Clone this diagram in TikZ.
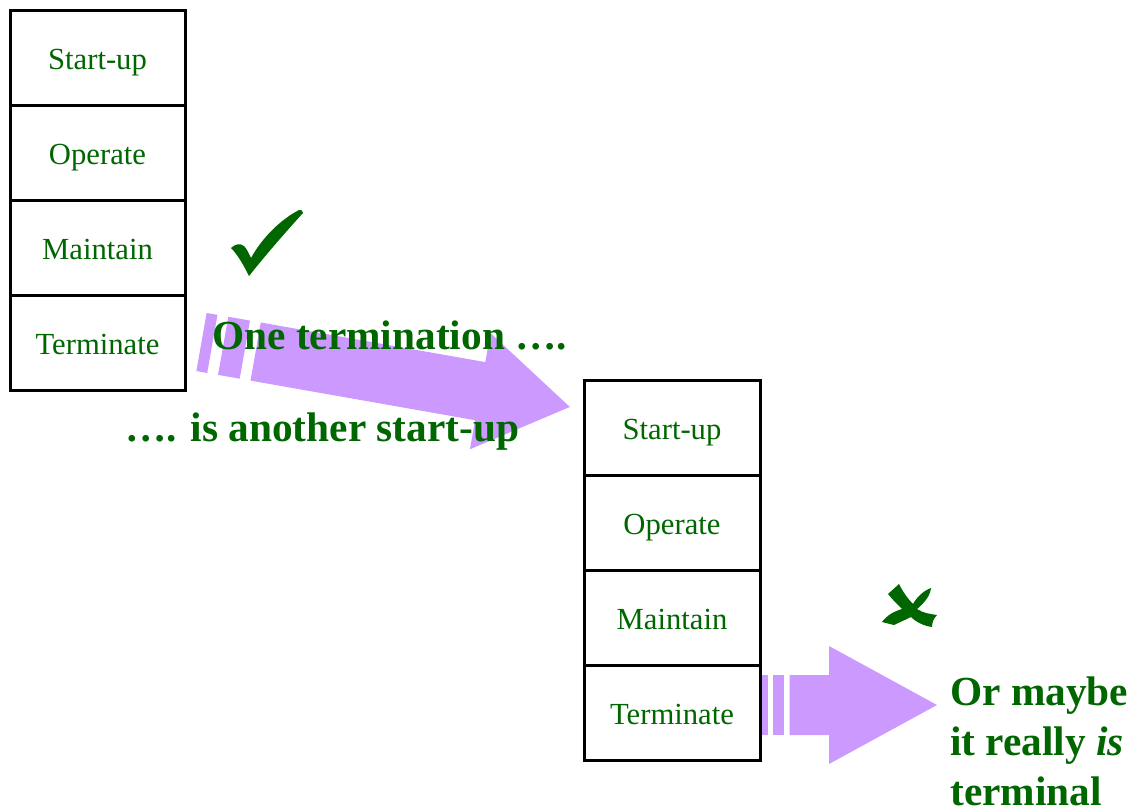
\documentclass[tikz,border=0pt]{standalone}
\usepackage{fontspec}
\setmainfont{Liberation Serif}
\definecolor{labelgreen}{RGB}{0,102,0}
\definecolor{arrowlilac}{RGB}{204,153,255}
\begin{document}
\begin{tikzpicture}[x=0.75pt,y=-0.75pt,
  cell/.style={draw=black, line width=2.25pt, outer sep=0pt, inner sep=0pt,
    minimum width=175*0.75pt, minimum height=95*0.75pt,
    font=\fontsize{23}{27}\selectfont, text=labelgreen,
    text height=18pt, text depth=0pt, anchor=north west},
  bigtext/.style={inner sep=0pt, text=labelgreen,
    font=\bfseries\fontsize{31}{37.5}\selectfont},
  verdict/.style={fill=labelgreen}]
\useasboundingbox (0,0) rectangle (1140,807);

% first life-cycle stack
\node[cell] (L1) at (10,10) {Start-up};
\node[cell] (L2) at (L1.south west) {Operate};
\node[cell] (L3) at (L2.south west) {Maintain};
\node[cell] (L4) at (L3.south west) {Terminate};

% second life-cycle stack
\node[cell, minimum width=176*0.75pt] (R1) at (584,380) {Start-up};
\node[cell, minimum width=176*0.75pt] (R2) at (R1.south west) {Operate};
\node[cell, minimum width=176*0.75pt] (R3) at (R2.south west) {Maintain};
\node[cell, minimum width=176*0.75pt] (R4) at (R3.south west) {Terminate};

% striped arrow from the first stack to the second
\begin{scope}[shift={(201.5,342)}, rotate=-10]
  \fill[arrowlilac] (0,-29.5) rectangle (11,29.5);
  \fill[arrowlilac] (22,-29.5) rectangle (44,29.5);
  \fill[arrowlilac] (55,-29.5) -- (283,-29.5) -- (283,-59) -- (374,0)
    -- (283,59) -- (283,29.5) -- (55,29.5) -- cycle;
\end{scope}

% striped arrow leaving the second stack
\begin{scope}[shift={(762,705)}]
  \fill[arrowlilac] (0,-30) rectangle (5.5,30);
  \fill[arrowlilac] (11,-30) rectangle (22,30);
  \fill[arrowlilac] (27.5,-30) -- (67,-30) -- (67,-59) -- (175,0)
    -- (67,59) -- (67,30) -- (27.5,30) -- cycle;
\end{scope}

% captions
\node[bigtext, anchor=base west] (one) at (212,349) {One termination ….};
\node[bigtext, anchor=base west] (another) at (125,441) {…. is another start-up};
\node[bigtext, anchor=base west, align=left] (maybe) at (950,805)
  {Or maybe\\it really \textit{is}\\terminal};

% tick mark
\fill[verdict] (231,248) .. controls (235,244) and (240,243) .. (244,246)
  .. controls (247,249) and (249,254) .. (251,258)
  .. controls (262,238) and (280,220) .. (299,210)
  .. controls (301,209) and (303,211) .. (303,213)
  .. controls (292,225) and (268,252) .. (249,276)
  .. controls (244,266) and (238,255) .. (231,248) -- cycle;

% cross mark
\fill[verdict] (888,594) -- (899,584)
  .. controls (903,592) and (908,599) .. (913,604)
  .. controls (917,597) and (923,591) .. (931,588)
  .. controls (930,597) and (923,604) .. (917,609)
  .. controls (923,613) and (930,614) .. (937,615)
  .. controls (934,618) and (932,622) .. (932,627)
  .. controls (924,626) and (916,622) .. (911,617)
  .. controls (905,620) and (898,623) .. (894,625)
  -- (882,622)
  .. controls (887,615) and (895,611) .. (902,609)
  .. controls (897,604) and (892,599) .. (888,594) -- cycle;
\end{tikzpicture}
\end{document}
